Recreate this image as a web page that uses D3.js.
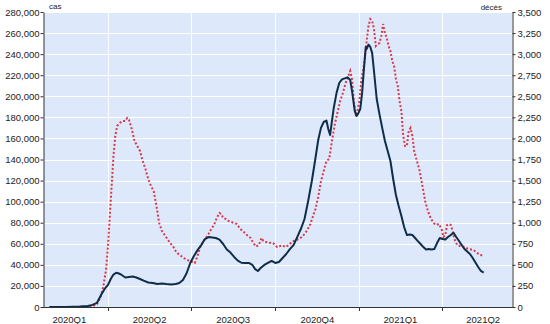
<!DOCTYPE html>
<html>
<head>
<meta charset="utf-8">
<script src="https://cdn.jsdelivr.net/npm/d3@7/dist/d3.min.js"></script>
<style>
  html, body { margin: 0; padding: 0; background: #fff; }
  svg text { font-family: "Liberation Sans", Arial, sans-serif; fill: #222; }
</style>
</head>
<body>
<svg id="chart" width="550" height="324"></svg>
<script>
// 7-day average of new cases (left axis)
const caseDates = ["2020-01-28","2020-02-15","2020-03-01","2020-03-10","2020-03-15","2020-03-20","2020-03-25","2020-03-29","2020-04-01","2020-04-04","2020-04-07","2020-04-10","2020-04-13","2020-04-16","2020-04-20","2020-04-24","2020-04-28","2020-05-02","2020-05-06","2020-05-10","2020-05-15","2020-05-20","2020-05-25","2020-05-30","2020-06-04","2020-06-09","2020-06-14","2020-06-18","2020-06-22","2020-06-26","2020-06-30","2020-07-04","2020-07-08","2020-07-12","2020-07-16","2020-07-20","2020-07-24","2020-07-28","2020-08-01","2020-08-05","2020-08-09","2020-08-13","2020-08-17","2020-08-21","2020-08-25","2020-08-29","2020-09-02","2020-09-06","2020-09-09","2020-09-12","2020-09-15","2020-09-19","2020-09-23","2020-09-27","2020-10-01","2020-10-05","2020-10-09","2020-10-13","2020-10-17","2020-10-21","2020-10-25","2020-10-29","2020-11-02","2020-11-06","2020-11-10","2020-11-14","2020-11-17","2020-11-20","2020-11-23","2020-11-26","2020-11-28","2020-11-30","2020-12-02","2020-12-04","2020-12-07","2020-12-10","2020-12-13","2020-12-16","2020-12-19","2020-12-22","2020-12-24","2020-12-27","2020-12-29","2020-12-31","2021-01-02","2021-01-04","2021-01-06","2021-01-08","2021-01-09","2021-01-11","2021-01-13","2021-01-15","2021-01-17","2021-01-20","2021-01-23","2021-01-26","2021-01-29","2021-02-01","2021-02-04","2021-02-07","2021-02-10","2021-02-13","2021-02-16","2021-02-19","2021-02-22","2021-02-25","2021-02-28","2021-03-03","2021-03-06","2021-03-09","2021-03-12","2021-03-15","2021-03-18","2021-03-21","2021-03-24","2021-03-27","2021-03-30","2021-04-02","2021-04-05","2021-04-08","2021-04-11","2021-04-14","2021-04-17","2021-04-20","2021-04-23","2021-04-26","2021-04-29","2021-05-02","2021-05-05","2021-05-08","2021-05-11","2021-05-14","2021-05-17"];
const caseValues = [0,0,500,1000,2000,4000,12300,18000,21000,26600,30800,32500,31800,30400,28000,28500,29000,28000,26600,25000,23300,22800,21800,22300,21800,21400,21800,22800,25600,32000,41800,48400,54000,58800,64500,66400,66000,65500,64000,59800,54600,51700,47500,44000,42000,41800,41800,39900,36000,34200,37000,39900,41800,43700,41800,42700,46500,50300,55000,58800,66400,74000,83500,100600,119600,141400,158500,170000,175600,177000,169000,163300,176500,188900,203000,212600,216000,217000,218000,215500,205000,186000,181300,184000,188000,203000,226000,246800,244900,249000,246800,241000,224000,197400,183000,170000,157600,148000,138600,121500,106300,95900,86400,75900,68300,68800,68300,65500,62600,59800,56900,54600,55000,54600,55000,60700,65500,64500,64000,66400,68300,70500,66400,62600,58800,55000,52700,50300,46500,42200,38000,34200,32600];

// 7-day average of deaths (right axis)
const deathDates = ["2020-01-28","2020-03-01","2020-03-15","2020-03-20","2020-03-24","2020-03-27","2020-03-30","2020-04-01","2020-04-03","2020-04-05","2020-04-07","2020-04-09","2020-04-11","2020-04-14","2020-04-17","2020-04-20","2020-04-22","2020-04-24","2020-04-27","2020-04-30","2020-05-03","2020-05-06","2020-05-09","2020-05-12","2020-05-15","2020-05-18","2020-05-21","2020-05-24","2020-05-27","2020-05-30","2020-06-02","2020-06-05","2020-06-08","2020-06-11","2020-06-14","2020-06-17","2020-06-20","2020-06-23","2020-06-26","2020-06-29","2020-07-02","2020-07-05","2020-07-08","2020-07-11","2020-07-14","2020-07-17","2020-07-20","2020-07-23","2020-07-26","2020-07-29","2020-08-01","2020-08-03","2020-08-05","2020-08-08","2020-08-11","2020-08-14","2020-08-17","2020-08-20","2020-08-23","2020-08-26","2020-08-29","2020-09-01","2020-09-04","2020-09-07","2020-09-10","2020-09-13","2020-09-16","2020-09-18","2020-09-21","2020-09-24","2020-09-27","2020-09-30","2020-10-03","2020-10-06","2020-10-09","2020-10-12","2020-10-15","2020-10-18","2020-10-21","2020-10-24","2020-10-27","2020-10-30","2020-11-02","2020-11-05","2020-11-08","2020-11-11","2020-11-14","2020-11-17","2020-11-20","2020-11-23","2020-11-26","2020-11-29","2020-12-02","2020-12-05","2020-12-08","2020-12-11","2020-12-14","2020-12-17","2020-12-20","2020-12-22","2020-12-24","2020-12-26","2020-12-28","2020-12-30","2021-01-01","2021-01-03","2021-01-05","2021-01-07","2021-01-09","2021-01-11","2021-01-13","2021-01-15","2021-01-17","2021-01-19","2021-01-21","2021-01-23","2021-01-25","2021-01-27","2021-01-29","2021-01-31","2021-02-02","2021-02-04","2021-02-06","2021-02-08","2021-02-10","2021-02-12","2021-02-14","2021-02-16","2021-02-18","2021-02-20","2021-02-22","2021-02-24","2021-02-26","2021-02-28","2021-03-02","2021-03-05","2021-03-08","2021-03-11","2021-03-14","2021-03-17","2021-03-20","2021-03-23","2021-03-26","2021-03-29","2021-04-01","2021-04-03","2021-04-05","2021-04-07","2021-04-09","2021-04-11","2021-04-13","2021-04-15","2021-04-18","2021-04-21","2021-04-24","2021-04-27","2021-04-30","2021-05-03","2021-05-06","2021-05-09","2021-05-12","2021-05-15","2021-05-17"];
const deathValues = [0,0,6,36,119,249,451,724,1080,1436,1791,2029,2147,2183,2207,2207,2242,2219,2112,1970,1910,1851,1732,1637,1519,1436,1376,1198,997,902,854,807,759,724,664,629,605,581,564,546,534,522,605,712,771,819,866,925,973,1056,1115,1103,1056,1044,1020,1008,997,985,937,902,878,842,819,759,718,736,819,783,771,759,765,747,712,724,730,712,730,759,783,795,807,830,866,913,973,1068,1163,1305,1495,1613,1732,1756,1969,2159,2302,2444,2539,2657,2741,2800,2705,2444,2290,2325,2444,2681,2800,2942,3156,3334,3417,3393,3298,3097,3120,3132,3215,3357,3251,3191,3097,3037,2918,2859,2705,2622,2444,2325,2029,1910,1910,2088,2124,2029,1851,1732,1613,1436,1258,1139,1056,997,973,985,925,830,854,973,985,973,902,807,736,724,718,706,688,682,676,647,629,611,599];

// Axis ticks and quarter labels
const caseTicks = d3.range(0, 280001, 20000);
const deathTicks = d3.range(0, 3501, 250);
const quarterStarts = ["2020-01-01","2020-04-01","2020-07-01","2020-10-01","2021-01-01","2021-04-01","2021-07-01"];
const quarterLabels = ["2020Q1","2020Q2","2020Q3","2020Q4","2021Q1","2021Q2"];
const axisTitles = { left: "cas", right: "décès" };

const parse = d3.timeParse("%Y-%m-%d");
const cases = caseDates.map((d, i) => ({ date: parse(d), value: caseValues[i] }));
const deaths = deathDates.map((d, i) => ({ date: parse(d), value: deathValues[i] }));
const qDates = quarterStarts.map(parse);

const svg = d3.select("#chart");
const plot = { left: 44, right: 512, top: 12, bottom: 307 };

const x = d3.scaleTime()
  .domain([parse("2020-01-22"), parse("2021-06-17")])
  .range([plot.left, plot.right]);
const yL = d3.scaleLinear().domain([0, 280000]).range([plot.bottom, plot.top]);
const yR = d3.scaleLinear().domain([0, 3500]).range([plot.bottom, plot.top]);

// plot background
svg.append("rect")
  .attr("x", plot.left).attr("y", plot.top)
  .attr("width", plot.right - plot.left).attr("height", plot.bottom - plot.top)
  .attr("fill", "#dde9fb");

// horizontal grid
svg.append("g").selectAll("line").data(caseTicks.slice(1)).join("line")
  .attr("x1", plot.left).attr("x2", plot.right)
  .attr("y1", d => Math.round(yL(d)) + 0.5).attr("y2", d => Math.round(yL(d)) + 0.5)
  .attr("stroke", "#fff").attr("stroke-width", 1);

// vertical grid at quarter boundaries
const innerQ = qDates.filter(d => d > x.domain()[0] && d < x.domain()[1]);
svg.append("g").selectAll("line").data(innerQ).join("line")
  .attr("x1", d => Math.round(x(d)) + 0.5).attr("x2", d => Math.round(x(d)) + 0.5)
  .attr("y1", plot.top).attr("y2", plot.bottom)
  .attr("stroke", "#fff").attr("stroke-width", 1);

// series
svg.append("clipPath").attr("id", "clip").append("rect")
  .attr("x", plot.left).attr("y", plot.top - 2)
  .attr("width", plot.right - plot.left).attr("height", plot.bottom - plot.top + 2);

svg.append("path").datum(deaths)
  .attr("clip-path", "url(#clip)")
  .attr("fill", "none")
  .attr("stroke", "#d8394a")
  .attr("stroke-width", 2)
  .attr("stroke-dasharray", "2,2")
  .attr("d", d3.line().x(d => x(d.date)).y(d => yR(d.value)));

svg.append("path").datum(cases)
  .attr("clip-path", "url(#clip)")
  .attr("fill", "none")
  .attr("stroke", "#0f2d48")
  .attr("stroke-width", 2)
  .attr("stroke-linejoin", "round")
  .attr("d", d3.line().x(d => x(d.date)).y(d => yL(d.value)));

// left axis
const fmt = d3.format(",");
const left = svg.append("g").attr("transform", `translate(${plot.left - 0.5},0)`)
  .call(d3.axisLeft(yL).tickValues(caseTicks).tickFormat(fmt).tickSize(3).tickSizeOuter(0));
left.select(".domain").attr("stroke", "#333");
left.selectAll(".tick line").attr("stroke", "#333");
left.selectAll("text").attr("font-size", 9.5).attr("x", -4);

// right axis
const right = svg.append("g").attr("transform", `translate(${plot.right + 0.5},0)`)
  .call(d3.axisRight(yR).tickValues(deathTicks).tickFormat(fmt).tickSize(3).tickSizeOuter(0));
right.select(".domain").attr("stroke", "#333");
right.selectAll(".tick line").attr("stroke", "#333");
right.selectAll("text").attr("font-size", 9.5).attr("x", 5);

// bottom axis: ticks at quarter boundaries, labels mid-quarter
svg.append("line")
  .attr("x1", plot.left - 1).attr("x2", plot.right + 1)
  .attr("y1", plot.bottom + 0.5).attr("y2", plot.bottom + 0.5)
  .attr("stroke", "#333");
svg.append("g").selectAll("line").data(innerQ).join("line")
  .attr("x1", d => Math.round(x(d)) + 0.5).attr("x2", d => Math.round(x(d)) + 0.5)
  .attr("y1", plot.bottom).attr("y2", plot.bottom + 4)
  .attr("stroke", "#333");
svg.append("g").selectAll("text").data(quarterLabels).join("text")
  .attr("x", (d, i) => x(new Date((qDates[i].getTime() + qDates[i + 1].getTime()) / 2)) + (i === 0 ? 3 : 0))
  .attr("y", 323)
  .attr("text-anchor", "middle")
  .attr("font-size", 9.5)
  .text(d => d);

// axis titles
svg.append("text").attr("x", plot.left + 5).attr("y", 9).attr("font-size", 8).text(axisTitles.left);
svg.append("text").attr("x", plot.right - 10).attr("y", 10).attr("font-size", 8)
  .attr("text-anchor", "end").text(axisTitles.right);
</script>
</body>
</html>
